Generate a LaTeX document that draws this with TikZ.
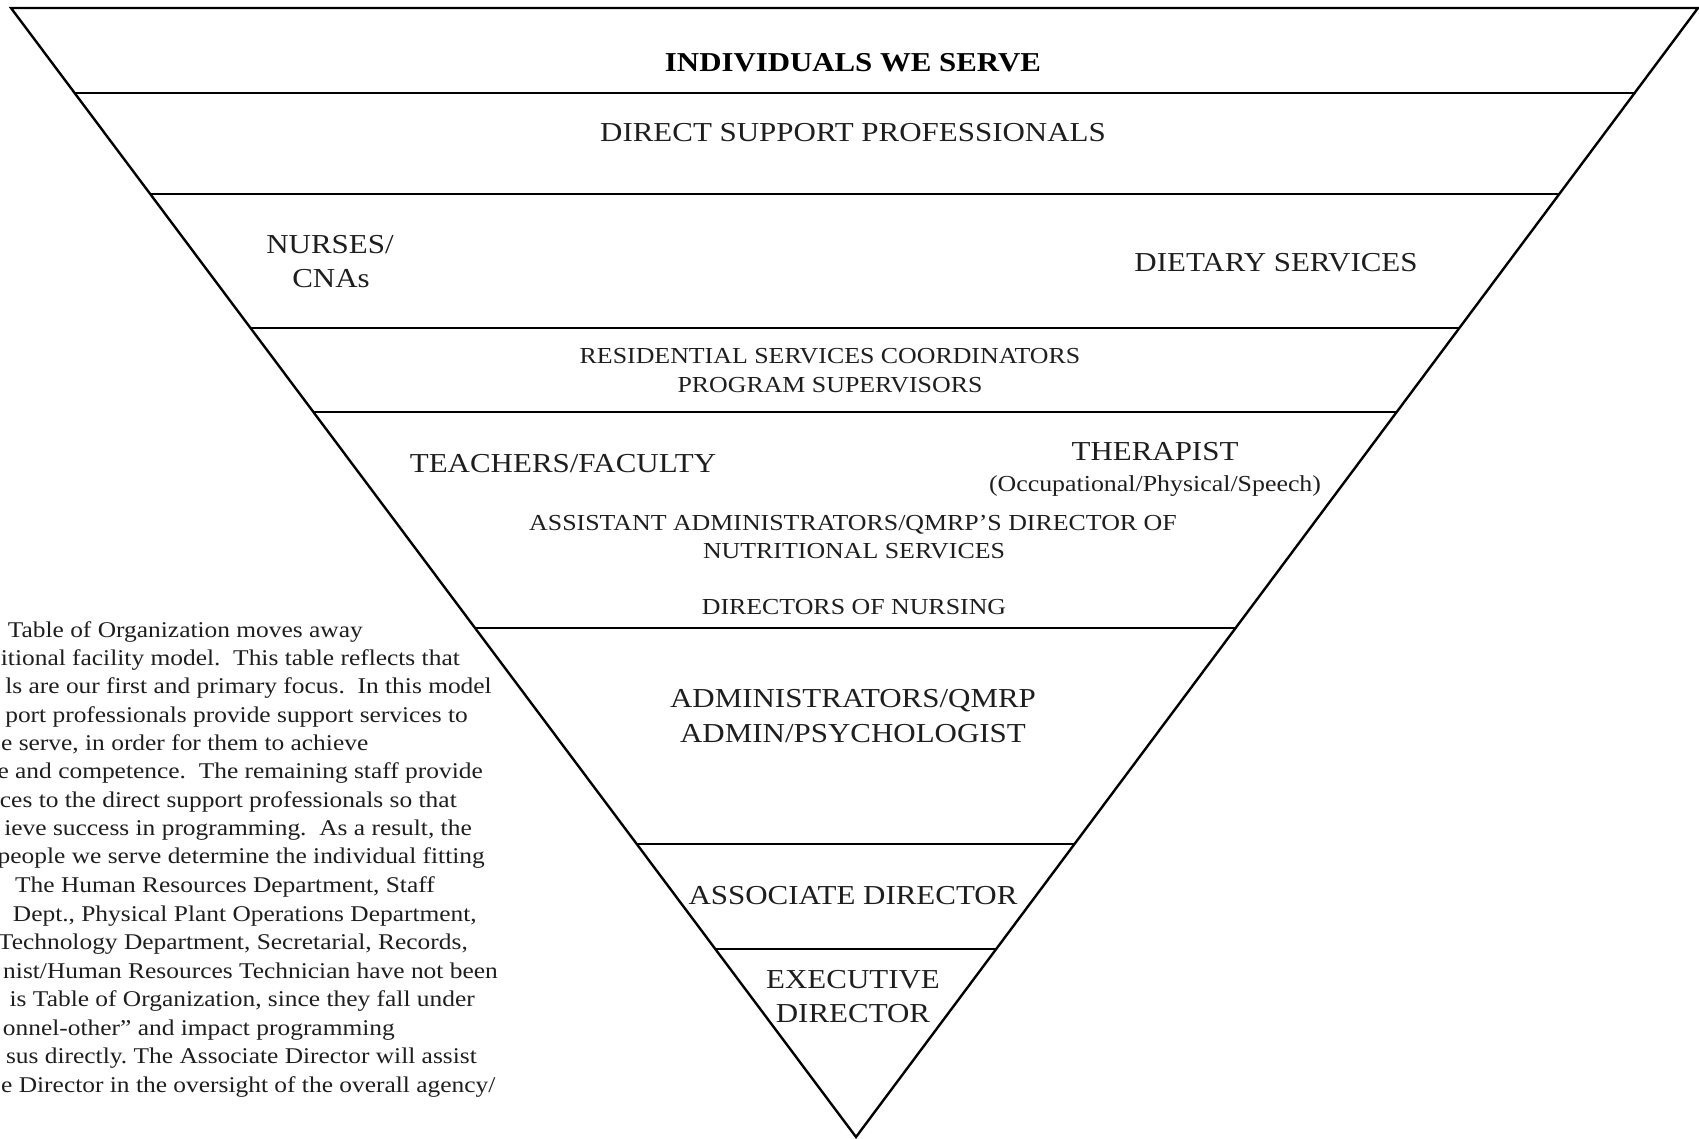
\documentclass[tikz,border=0pt]{standalone}
\usepackage{fontspec}
\setmainfont[FakeStretch=1.13]{Liberation Serif}
\usetikzlibrary{calc}
\definecolor{ink}{RGB}{30,30,30}
\frenchspacing
\begin{document}
\begin{tikzpicture}[x=1pt,y=-1pt,
  lbl/.style={anchor=base, inner sep=0pt, text=ink, font=\fontsize{27.4}{32}\selectfont},
  ttl/.style={anchor=base, inner sep=0pt, text=black, font=\fontsize{27.3}{32}\selectfont\bfseries},
  sml/.style={anchor=base, inner sep=0pt, text=ink, font=\fontsize{22.9}{27}\selectfont},
  para/.style={anchor=base east, inner sep=0pt, text=ink, font=\fontsize{22.5}{27}\selectfont},
  paraw/.style={para, anchor=base west},
  edge/.style={line width=2.4pt, draw=black, line join=miter},
  tier/.style={line width=2.4pt, draw=black}]
\useasboundingbox (0,0) rectangle (1699,1139);
% inverted pyramid
\coordinate (TL) at (11,8);
\coordinate (TR) at (1698,8);
\coordinate (AP) at (856,1137);
\draw[edge] (TL) -- (TR) -- (AP) -- cycle;
\foreach \t/\n in {0.0753/1,0.1647/2,0.2834/3,0.3578/4,0.5492/5,0.7405/6,0.8335/7}{
  \coordinate (L\n) at ($(TL)!\t!(AP)$);
  \coordinate (R\n) at ($(TR)!\t!(AP)$);
  \draw[tier] (L\n) -- (R\n);
}
% tier labels
\node[ttl] (ind) at (853,72) {INDIVIDUALS WE SERVE};
\node[lbl] (dsp) at (853,142) {DIRECT SUPPORT PROFESSIONALS};
\node[lbl] (nur1) at (330,254) {NURSES/};
\node[lbl] (nur2) at (331,288) {CNAs};
\node[lbl] (diet) at (1276,272) {DIETARY SERVICES};
\node[sml] (res1) at (830,363) {RESIDENTIAL SERVICES COORDINATORS};
\node[sml] (res2) at (830,392) {PROGRAM SUPERVISORS};
\node[lbl] (teach) at (563,472) {TEACHERS/FACULTY};
\node[lbl] (ther) at (1155,460) {THERAPIST};
\node[sml] (ther2) at (1155,491) {(Occupational/Physical/Speech)};
\node[sml] (asst1) at (853,530) {ASSISTANT ADMINISTRATORS/QMRP'S DIRECTOR OF};
\node[sml] (asst2) at (854,558) {NUTRITIONAL SERVICES};
\node[sml] (don) at (854,614) {DIRECTORS OF NURSING};
\node[lbl] (adm1) at (853,707) {ADMINISTRATORS/QMRP};
\node[lbl] (adm2) at (853,742) {ADMIN/PSYCHOLOGIST};
\node[lbl] (assoc) at (853,904) {ASSOCIATE DIRECTOR};
\node[lbl] (exec1) at (853,988) {EXECUTIVE};
\node[lbl] (exec2) at (853,1022) {DIRECTOR};
% cropped explanatory paragraph
\node[para] (p1) at (363,637) {Table of Organization moves away};
\node[para] (p2) at (460,665) {itional facility model.\ \ This table reflects that};
\node[para] (p3) at (492,693) {ls are our first and primary focus.\ \ In this model};
\node[para] (p4) at (468,722) {port professionals provide support services to};
\node[paraw] (p5) at (1,750) {e serve, in order for them to achieve};
\node[para] (p6) at (483,778) {e and competence.\ \ The remaining staff provide};
\node[para] (p7) at (457,807) {ces to the direct support professionals so that};
\node[para] (p8) at (472,835) {ieve success in programming.\ \ As a result, the};
\node[para] (p9) at (485,863) {people we serve determine the individual fitting};
\node[para] (p10) at (435,892) {The Human Resources Department, Staff};
\node[para] (p11) at (477,921) {Dept., Physical Plant Operations Department,};
\node[para] (p12) at (468,949) {Technology Department, Secretarial, Records,};
\node[para] (p13) at (498,978) {nist/Human Resources Technician have not been};
\node[para] (p14) at (475,1006) {is Table of Organization, since they fall under};
\node[para] (p15) at (395,1035) {onnel-other'' and impact programming};
\node[para] (p16) at (477,1063) {sus directly. The Associate Director will assist};
\node[paraw] (p17) at (1,1092) {e Director in the oversight of the overall agency/};
\end{tikzpicture}
\end{document}
